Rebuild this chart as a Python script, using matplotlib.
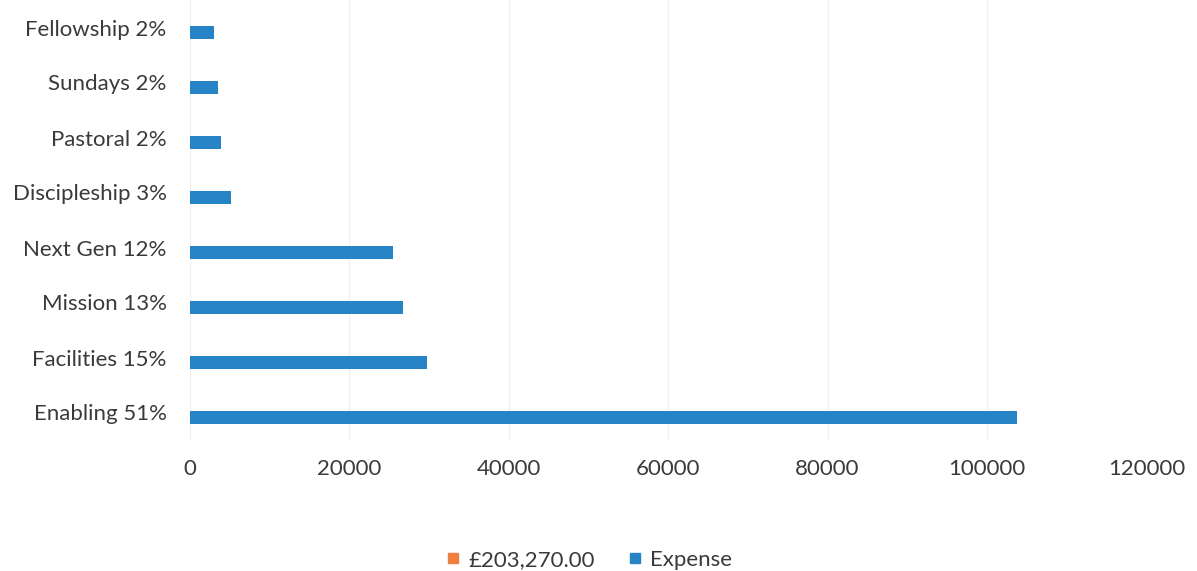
import matplotlib
matplotlib.use("Agg")
import matplotlib.pyplot as plt
from matplotlib.lines import Line2D
import numpy as np

categories = ["Enabling 51%", "Facilities 15%", "Mission 13%", "Next Gen 12%",
              "Discipleship 3%", "Pastoral 2%", "Sundays 2%", "Fellowship 2%"]
expense = [103700, 29800, 26800, 25550, 5150, 3900, 3550, 3100]
xticks = [0, 20000, 40000, 60000, 80000, 100000, 120000]
series_names = ["£203,270.00", "Expense"]

BLUE = "#2583C6"
ORANGE = "#EF7E3F"
TXT = "#3a3a3a"

plt.rcParams['font.family'] = ['Lato', 'DejaVu Sans']

fig = plt.figure(figsize=(11.97, 5.71), dpi=100)
ax = fig.add_axes([189.5/1197, 131/571, 957/1197, 440/571])

y = np.arange(len(categories))
ax.barh(y - 0.085, expense, height=0.24, color=BLUE, zorder=3)

ax.set_xlim(0, 120000)
ax.set_ylim(-0.5, len(categories) - 0.5)
ax.set_xticks(xticks)
ax.set_xticklabels([str(t) for t in xticks])
ax.set_yticks(y)
ax.set_yticklabels(categories)
ax.tick_params(axis='both', length=0, labelsize=16, colors=TXT)
ax.tick_params(axis='y', pad=16.5)
ax.tick_params(axis='x', pad=14)
ax.xaxis.grid(True, color="#f0f0f0", linewidth=1, zorder=0)
for s in ax.spines.values():
    s.set_visible(False)

handles = [Line2D([], [], marker='s', linestyle='none', markersize=7.5,
                  color=ORANGE),
           Line2D([], [], marker='s', linestyle='none', markersize=7.5,
                  color=BLUE)]
fig.legend(handles, series_names, loc='center', bbox_to_anchor=(588/1197, 1 - 560/571),
           ncol=2, frameon=False, fontsize=16, handletextpad=0.3,
           handlelength=0.8, columnspacing=1.4, labelcolor=TXT)

fig.savefig("out.png", dpi=100, facecolor="white")
